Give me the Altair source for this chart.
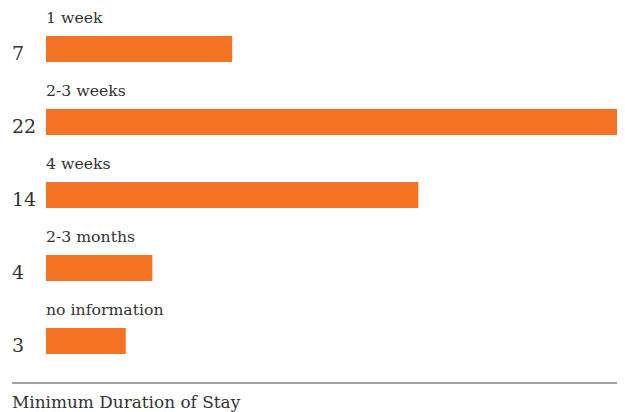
import altair as alt
import pandas as pd

categories = ["1 week", "2-3 weeks", "4 weeks", "2-3 months", "no information"]
counts = [7, 22, 14, 4, 3]
title_text = ["Minimum Duration of Stay"]

FONT = "DejaVu Serif"
ORANGE = "#F47224"
TEXT = "#333333"

df = pd.DataFrame({"category": categories, "count": counts})
tdf = pd.DataFrame({"t": title_text})

y = alt.Y("category:N", sort=categories, axis=None,
          scale=alt.Scale(paddingInner=0, paddingOuter=0))
x_scale = alt.Scale(domain=[0, 21.47], nice=False, zero=True)

base = alt.Chart(df)
bars = base.mark_bar(color=ORANGE, height=26, yOffset=4.5).encode(
    x=alt.X("count:Q", scale=x_scale, axis=None), y=y)
labels = base.mark_text(align="left", baseline="middle", dy=-26.5, font=FONT,
                        fontSize=15.7, color=TEXT).encode(
    x=alt.value(0), y=y, text="category:N")
values = base.mark_text(align="left", baseline="alphabetic", dy=15.5, font=FONT,
                        fontSize=19, color=TEXT).encode(
    x=alt.value(-34), y=y, text="count:Q")

rule = alt.Chart(tdf).mark_rule(color="#444444", strokeWidth=1).encode(
    x=alt.value(-34), x2=alt.value(571), y=alt.value(375))
title = alt.Chart(tdf).mark_text(align="left", baseline="alphabetic", font=FONT,
                                 fontSize=16.9, color=TEXT).encode(
    x=alt.value(-34), y=alt.value(400), text="t:N")

chart = alt.layer(bars, labels, values, rule, title).properties(
    width=571, height=365,
    padding={"left": 38, "top": 0, "right": 0, "bottom": 39},
    autosize="none",
).configure_view(stroke=None)

chart.save("out.html", embed_options={"renderer": "svg", "actions": False})
